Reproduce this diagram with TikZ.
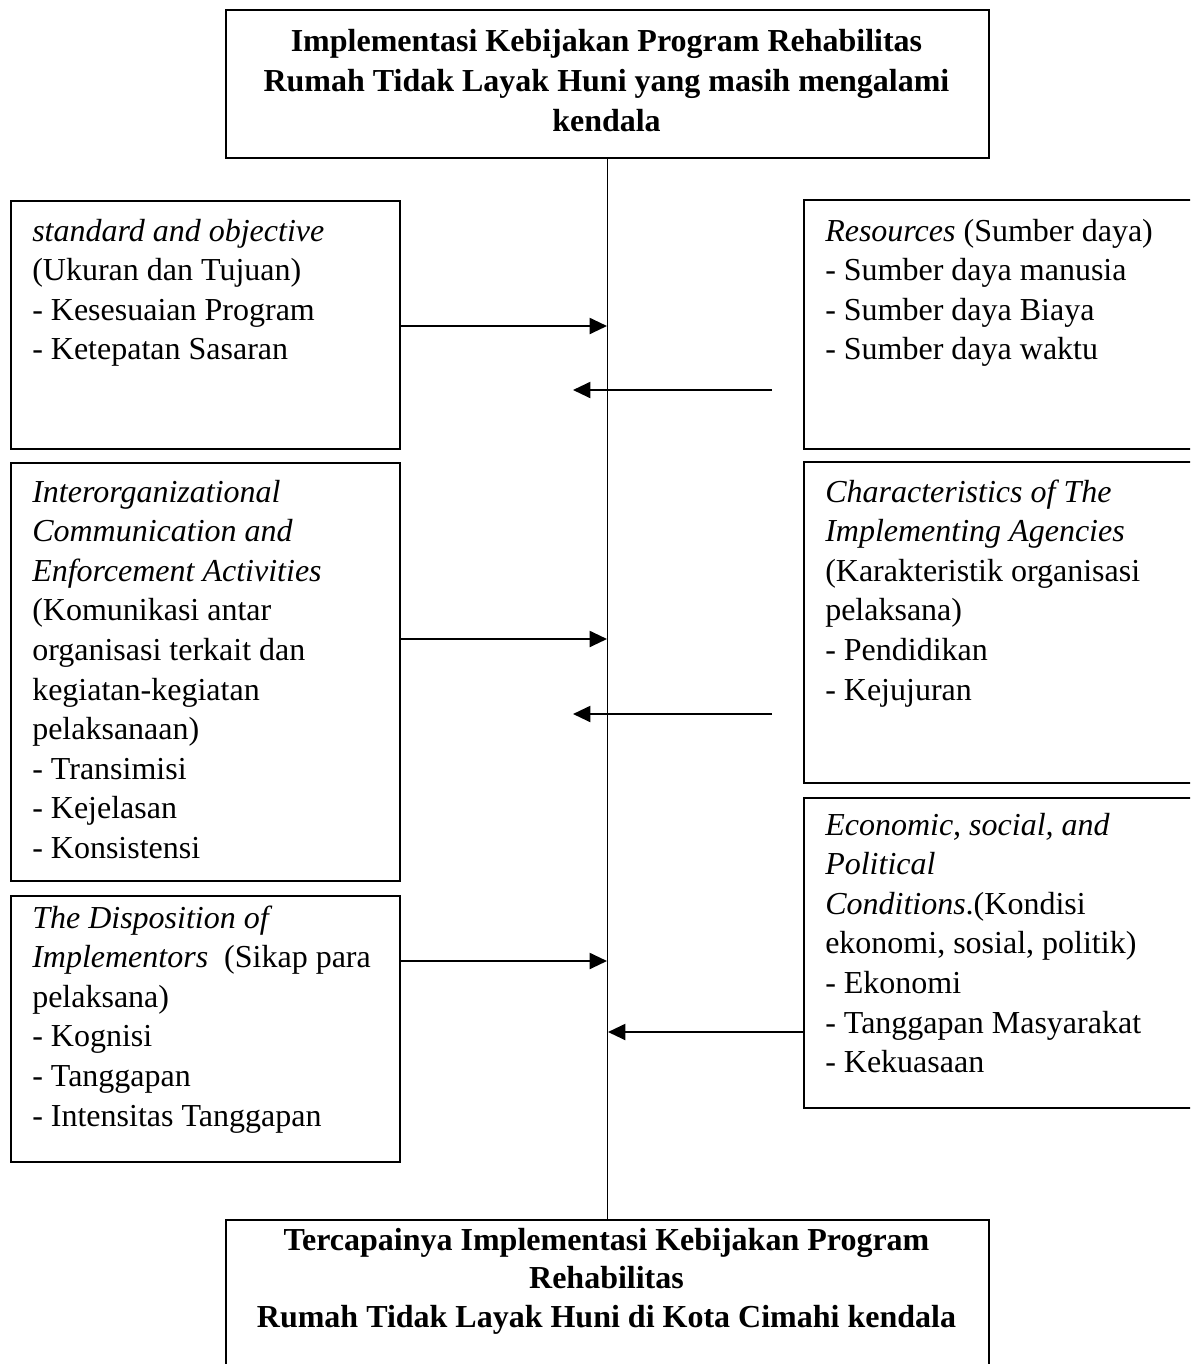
\documentclass[tikz,border=0pt]{standalone}
\usepackage{fontspec}
\setmainfont{Liberation Serif}
\usetikzlibrary{arrows.meta}
\newcommand\blk[1]{\parbox[t]{400pt}{\raggedright\fontsize{24}{29.7}\selectfont #1}}
\newcommand\ctrbox[2]{\parbox[t]{560pt}{\centering\bfseries\fontsize{24}{#1}\selectfont #2}}
\begin{document}
\begin{tikzpicture}[x=0.75pt,y=-0.75pt,
  box/.style={draw, line width=1.8pt, rectangle, inner sep=0pt, anchor=north west},
  txt/.style={anchor=base west, inner sep=0pt},
  ttl/.style={anchor=base, inner sep=0pt},
  arr/.style={line width=1.5pt, -{Triangle[length=13pt,width=12pt]}},
  trunk/.style={line width=1.1pt}]
\useasboundingbox (0,0) rectangle (1190,1364);
\clip (0,0) rectangle (1190,1364);

% boxes
\node[box, minimum width=572.25pt, minimum height=111pt] (top) at (225,9) {};
\node[box, minimum width=572.25pt, minimum height=130pt] (bot) at (225,1219) {};
\node[box, minimum width=291.75pt, minimum height=186pt] (L1) at (10,200) {};
\node[box, minimum width=291.75pt, minimum height=313.5pt] (L2) at (10,462) {};
\node[box, minimum width=291.75pt, minimum height=199.5pt] (L3) at (10,895) {};
\node[box, minimum width=300pt, minimum height=186.75pt] (R1) at (803,199) {};
\node[box, minimum width=300pt, minimum height=240.75pt] (R2) at (803,461) {};
\node[box, minimum width=300pt, minimum height=232.5pt] (R3) at (803,797) {};

% titles
\node[ttl] (toptxt) at (606.5,51) {\ctrbox{30}{Implementasi Kebijakan Program Rehabilitas\\Rumah Tidak Layak Huni yang masih mengalami\\kendala}};
\node[ttl] (bottxt) at (606.5,1250) {\ctrbox{29}{Tercapainya Implementasi Kebijakan Program\\Rehabilitas\\Rumah Tidak Layak Huni di Kota Cimahi kendala}};

% texts
\node[txt] (L1t) at (32,241) {\blk{\textit{standard and objective}\\(Ukuran dan Tujuan)\\- Kesesuaian Program\\- Ketepatan Sasaran}};
\node[txt] (L2t) at (32,502) {\blk{\textit{Interorganizational}\\\textit{Communication and}\\\textit{Enforcement Activities}\\(Komunikasi antar\\organisasi terkait dan\\kegiatan-kegiatan\\pelaksanaan)\\- Transimisi\\- Kejelasan\\- Konsistensi}};
\node[txt] (L3t) at (32,928) {\blk{\textit{The Disposition of}\\\textit{Implementors}\ \ (Sikap para\\pelaksana)\\- Kognisi\\- Tanggapan\\- Intensitas Tanggapan}};
\node[txt] (R1t) at (825,241) {\blk{\textit{Resources} (Sumber daya)\\- Sumber daya manusia\\- Sumber daya Biaya\\- Sumber daya waktu}};
\node[txt] (R2t) at (825,502) {\blk{\textit{Characteristics of The}\\\textit{Implementing Agencies}\\(Karakteristik organisasi\\pelaksana)\\- Pendidikan\\- Kejujuran}};
\node[txt] (R3t) at (825,835) {\blk{\textit{Economic, social, and}\\\textit{Political}\\\textit{Conditions}.(Kondisi\\ekonomi, sosial, politik)\\- Ekonomi\\- Tanggapan Masyarakat\\- Kekuasaan}};

% connectors
\draw[trunk] (top.south) -- (bot.north);
\coordinate (p1) at (607,326);
\draw[arr] (L1.east |- p1) -- (p1);
\coordinate (s2) at (772,390);
\coordinate (e2) at (573,390);
\draw[arr] (s2) -- (e2);
\coordinate (p3) at (607,639);
\draw[arr] (L2.east |- p3) -- (p3);
\coordinate (s4) at (772,714);
\coordinate (e4) at (573,714);
\draw[arr] (s4) -- (e4);
\coordinate (p5) at (607,961);
\draw[arr] (L3.east |- p5) -- (p5);
\coordinate (p6) at (608,1032);
\draw[arr] (R3.west |- p6) -- (p6);
\end{tikzpicture}
\end{document}
